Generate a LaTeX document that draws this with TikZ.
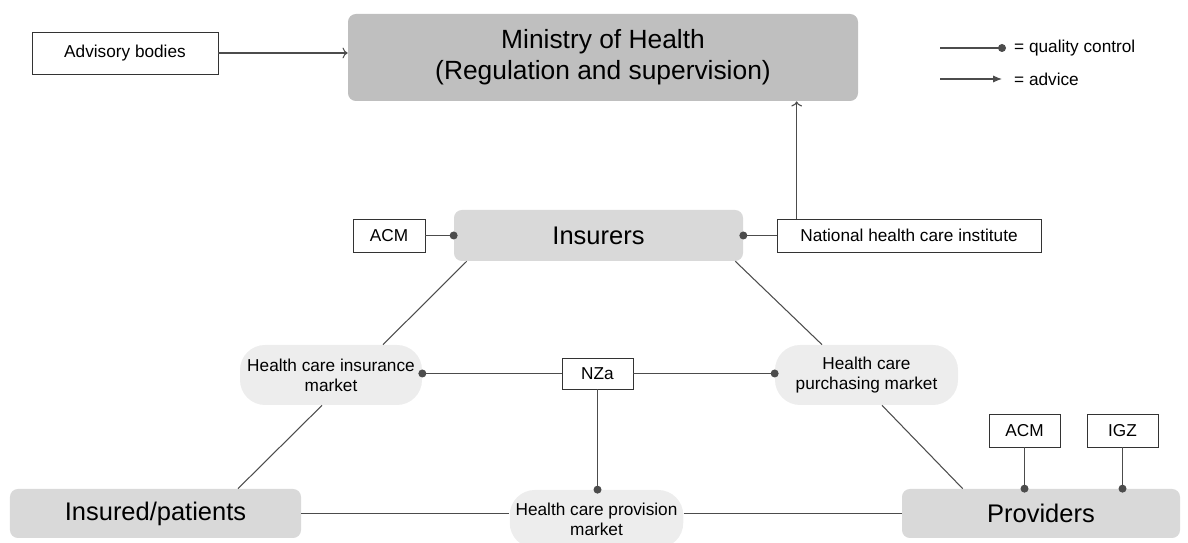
\documentclass[tikz,border=0pt]{standalone}
\usepackage{fontspec}
\setmainfont{Liberation Sans}
\usetikzlibrary{arrows.meta}

\begin{document}
\begin{tikzpicture}[>=To,
    actor/.style={rounded corners=4.5pt, fill=gray!30, minimum height=0.98cm, font=\fontsize{14.5}{17}\selectfont},
    market/.style={rounded corners=0.5cm, fill=gray!14, minimum width=3.64cm, minimum height=1.2cm, align=center, font=\fontsize{9.8}{11.5}\selectfont},
    tag/.style={draw=black!80, fill=white, minimum height=0.66cm, font=\fontsize{9.8}{12}\selectfont},
    link/.style={draw=black!70, line width=0.6pt},
    qc/.style={link, -{Circle[length=4.5pt]}, shorten >=-2.25pt},
    advice/.style={link, ->}]
    \useasboundingbox (0,0) rectangle (23.76,10.86);

    % government level
    \node[actor, fill=gray!50, minimum width=10.2cm, minimum height=1.74cm, align=center,
          font=\fontsize{15}{17.6}\selectfont] (ministry) at (12.06,9.71)
          {Ministry of Health\\(Regulation and supervision)};
    \node[tag, minimum width=3.72cm, minimum height=0.84cm] (advisory) at (2.50,9.80) {Advisory bodies};
    \draw[advice] (advisory.east) -- (advisory.east -| ministry.west);

    % legend
    \node[anchor=west, font=\fontsize{9.8}{12}\selectfont] (qclabel) at (20.16,9.90) {= quality control};
    \node[anchor=west, font=\fontsize{9.8}{12}\selectfont] (advlabel) at (20.16,9.28) {= advice};
    \coordinate (qcfrom) at (18.80,9.90);
    \coordinate (advfrom) at (18.80,9.28);
    \draw[qc] (qcfrom) -- ([xshift=-0.12cm]qclabel.west);
    \draw[link, -{Latex[length=5pt,width=4pt]}] (advfrom) -- ([xshift=-0.12cm]advlabel.west);

    % the three parties
    \node[actor, minimum width=5.78cm, minimum height=1.02cm] (insurers) at (11.97,6.15) {Insurers};
    \node[actor, minimum width=5.82cm] (insured) at (3.11,0.59) {Insured/patients};
    \node[actor, minimum width=5.56cm] (providers) at (20.82,0.59) {Providers};

    % supervisors
    \node[tag, minimum width=1.44cm] (acmins) at (7.78,6.15) {ACM};
    \node[tag, minimum width=5.28cm] (zin) at (18.18,6.15) {National health care institute};
    \node[tag, minimum width=1.42cm, minimum height=0.62cm] (nza) at (11.95,3.39) {NZa};
    \node[tag, minimum width=1.42cm] (acmprov) at (20.49,2.25) {ACM};
    \node[tag, minimum width=1.42cm] (igz) at (22.45,2.25) {IGZ};

    % markets
    \node[market] (insmarket) at (6.62,3.36) {Health care insurance\\market};
    \node[market, minimum width=3.66cm] (purmarket) at (17.33,3.36) {Health care\\purchasing market};
    \node[market, minimum width=3.46cm, minimum height=1.16cm] (provmarket) at (11.93,0.48) {Health care provision\\market};

    % triangle
    \draw[link] ([xshift=0.26cm]insurers.south west) -- ([xshift=1.04cm]insmarket.north);
    \draw[link] ([xshift=-0.18cm]insmarket.south) -- ([xshift=1.65cm]insured.north);
    \draw[link] ([xshift=-0.16cm]insurers.south east) -- ([xshift=-0.89cm]purmarket.north);
    \draw[link] ([xshift=0.31cm]purmarket.south) -- ([xshift=1.22cm]providers.north west);
    \draw[link] (insured.east) -- (insured.east -| provmarket.west);
    \draw[link] (providers.west -| provmarket.east) -- (providers.west);

    % quality control and advice
    \draw[qc] (acmins) -- (insurers);
    \draw[qc] (zin) -- (insurers);
    \draw[advice] ([xshift=0.4cm]zin.north west) -- ([xshift=0.4cm]zin.north west |- ministry.south);
    \draw[qc] (nza.west) -- (nza.west -| insmarket.east);
    \draw[qc] (nza.east) -- (nza.east -| purmarket.west);
    \draw[qc] (nza.south) -- (nza.south |- provmarket.north);
    \draw[qc] (acmprov) -- (acmprov |- providers.north);
    \draw[qc] (igz) -- (igz |- providers.north);
\end{tikzpicture}
\end{document}
